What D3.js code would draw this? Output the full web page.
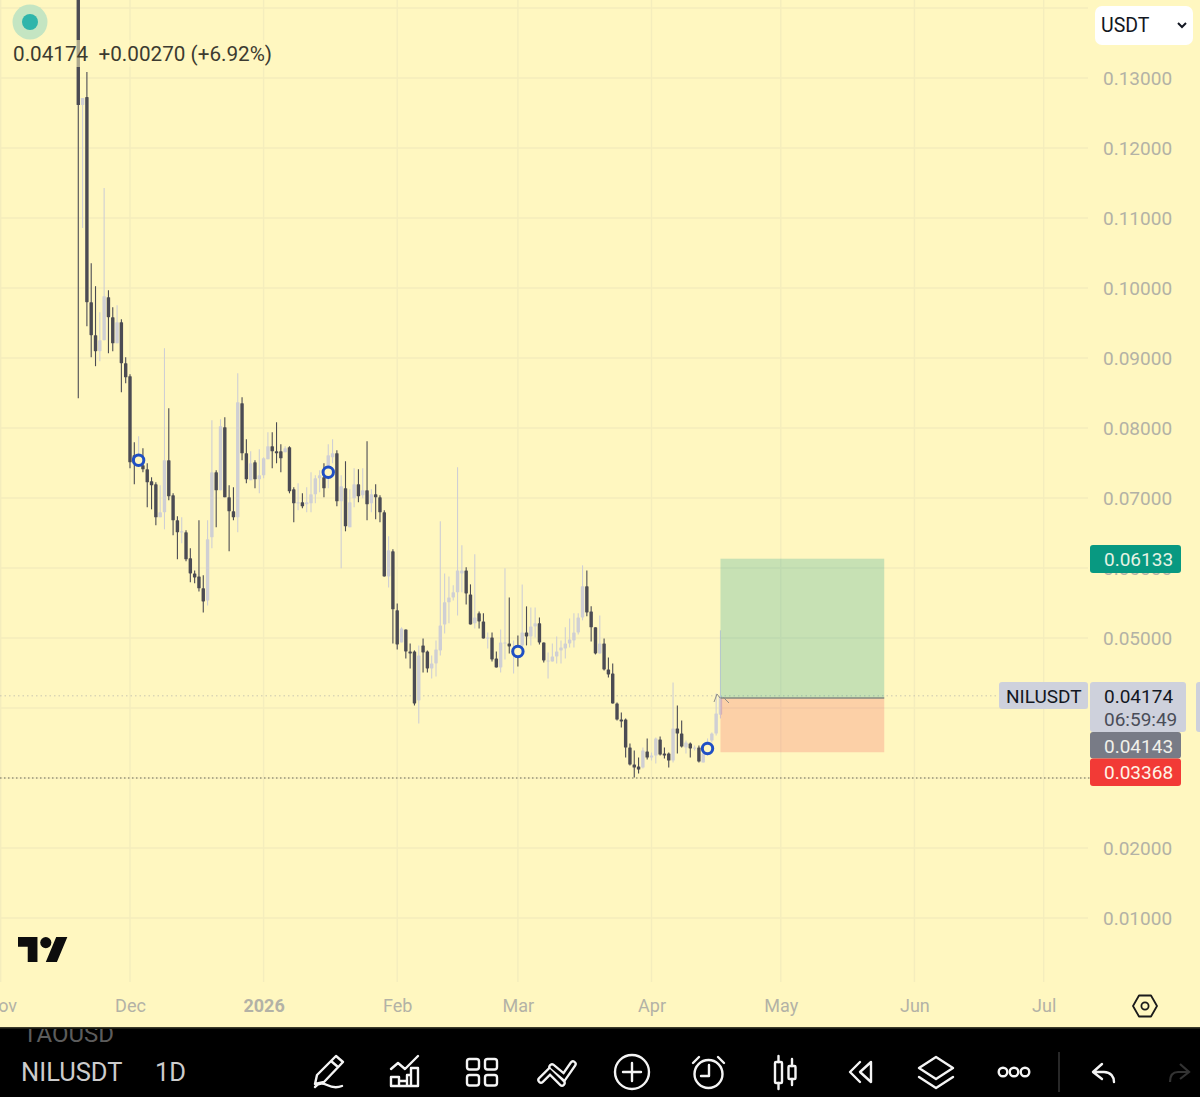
<!DOCTYPE html>
<html><head><meta charset="utf-8">
<script src="https://cdn.jsdelivr.net/npm/d3@7/dist/d3.min.js"></script>
<style>html,body{margin:0;padding:0;background:#000}svg{display:block;font-family:Roboto,sans-serif}</style>
</head><body><svg id="c" width="1200" height="1097"></svg>
<script>
// ---- data ----
const firstCandle = "2025-11-19";
const direction = "dldddllddl"+"ddddlddddl"+"ldddlddddd"+"lldldddldd"+"ldllldddld"+"dldlllldll"+"dldlldldld"+"ddlddldddl"+
  "ddllllllll"+"ddlddlddll"+"dldldllddl"+"lllllllldd"+"dldddddddd"+"dldlldddld"+"dldldlllll";
const highs = [0.17,0.12714,0.13086,0.10355,0.10026,0.09655,0.11427,0.09969,0.09726,0.09755,
0.09555,0.09011,0.08768,0.07796,0.07882,0.07710,0.07496,0.07296,0.07224,0.07181,
0.09140,0.08282,0.07067,0.06738,0.06724,0.06538,0.06281,0.05966,0.06681,0.05895,
0.06681,0.08111,0.07396,0.08125,0.08153,0.07181,0.07153,0.08783,0.08439,0.07839,
0.07667,0.07539,0.07696,0.07582,0.07939,0.07939,0.08082,0.07768,0.07739,0.07739,
0.07153,0.07210,0.07067,0.07153,0.07367,0.07324,0.07396,0.07496,0.07768,0.07839,
0.07682,0.07324,0.07525,0.07124,0.07425,0.07410,0.07425,0.07811,0.07124,0.07196,
0.07038,0.06824,0.06452,0.06267,0.05494,0.05152,0.05123,0.04923,0.04823,0.04894,
0.04994,0.04823,0.04751,0.04966,0.06667,0.05923,0.05880,0.05752,0.07439,0.06324,
0.06009,0.05766,0.06195,0.05380,0.05352,0.05080,0.05080,0.04808,0.05123,0.05995,
0.05580,0.04966,0.05037,0.05766,0.05452,0.05437,0.05437,0.05294,0.04937,0.04794,
0.04923,0.05023,0.04966,0.05152,0.05280,0.05352,0.05352,0.06038,0.05966,0.05452,
0.05152,0.05323,0.04994,0.04722,0.04637,0.04079,0.03936,0.03851,0.03493,0.03393,
0.03293,0.03436,0.03565,0.03364,0.03579,0.03593,0.03436,0.03364,0.04365,0.04036,
0.03822,0.03536,0.03507,0.03465,0.03465,0.03364,0.03565,0.03651,0.04208,0.05109];
const bodyUpper = [0.16,0.12714,0.12728,0.09798,0.09326,0.09254,0.09883,0.09869,0.09583,0.09512,
0.09512,0.08926,0.08740,0.07610,0.07539,0.07467,0.07410,0.07239,0.07196,0.06795,
0.07539,0.07539,0.07038,0.06681,0.06524,0.06510,0.06138,0.05923,0.05880,0.05709,
0.06409,0.07367,0.07367,0.08025,0.08011,0.07010,0.06810,0.08368,0.08354,0.07639,
0.07496,0.07510,0.07324,0.07568,0.07739,0.07739,0.07667,0.07667,0.07710,0.07725,
0.07124,0.06938,0.06938,0.06938,0.07053,0.07281,0.07324,0.07296,0.07610,0.07639,
0.07639,0.07167,0.07139,0.06938,0.07196,0.07196,0.07110,0.07110,0.07053,0.07053,
0.07010,0.06795,0.06252,0.06238,0.05395,0.05137,0.05123,0.04808,0.04808,0.04751,
0.04894,0.04808,0.04637,0.04837,0.05180,0.05509,0.05580,0.05652,0.05966,0.05966,
0.05966,0.05623,0.05294,0.05352,0.05237,0.05008,0.05008,0.04708,0.04937,0.04937,
0.04923,0.04851,0.04894,0.05080,0.05080,0.05166,0.05209,0.05209,0.04937,0.04680,
0.04737,0.04808,0.04865,0.04923,0.04980,0.05080,0.05294,0.05738,0.05738,0.05380,
0.05152,0.04923,0.04923,0.04551,0.04494,0.04065,0.03836,0.03836,0.03436,0.03193,
0.03164,0.03393,0.03379,0.03321,0.03565,0.03550,0.03350,0.03350,0.03708,0.03708,
0.03636,0.03507,0.03493,0.03436,0.03436,0.03350,0.03522,0.03636,0.03922,0.04174];
const bodyLower = [0.12614,0.12614,0.09798,0.09326,0.09097,0.09097,0.09254,0.09583,0.09211,0.09211,
0.08926,0.08725,0.07510,0.07496,0.07496,0.07410,0.07224,0.07181,0.06724,0.06724,
0.06795,0.07024,0.06681,0.06510,0.06510,0.06124,0.05923,0.05866,0.05709,0.05523,
0.05537,0.06438,0.07110,0.07110,0.07010,0.06810,0.06724,0.06724,0.07639,0.07267,
0.07253,0.07267,0.07267,0.07324,0.07553,0.07667,0.07639,0.07568,0.07653,0.07096,
0.06924,0.06924,0.06881,0.06910,0.06924,0.07053,0.07281,0.07139,0.07296,0.07582,
0.06953,0.06953,0.06595,0.06581,0.06996,0.07024,0.07038,0.06910,0.06924,0.07010,
0.06795,0.05880,0.05880,0.05409,0.04908,0.04937,0.04808,0.04780,0.04065,0.04108,
0.04794,0.04565,0.04565,0.04637,0.04823,0.05194,0.05509,0.05580,0.05652,0.05923,
0.05637,0.05194,0.05209,0.05237,0.04994,0.04994,0.04694,0.04580,0.04580,0.04923,
0.04880,0.04751,0.04794,0.04894,0.05023,0.05023,0.05166,0.04937,0.04680,0.04665,
0.04665,0.04737,0.04823,0.04851,0.04923,0.04966,0.05080,0.05294,0.05366,0.05152,
0.04780,0.04780,0.04551,0.04479,0.04065,0.03836,0.03808,0.03436,0.03193,0.03150,
0.03121,0.03150,0.03293,0.03293,0.03321,0.03336,0.03321,0.03250,0.03250,0.03636,
0.03450,0.03436,0.03422,0.03422,0.03236,0.03221,0.03350,0.03536,0.03636,0.03904];
const lows = [0.08425,0.10856,0.09455,0.09011,0.08883,0.08954,0.09254,0.09068,0.09097,0.09211,
0.08511,0.08640,0.07425,0.07196,0.07453,0.07367,0.06867,0.06838,0.06610,0.06724,
0.06552,0.06967,0.06467,0.06124,0.06352,0.06095,0.05795,0.05781,0.05666,0.05366,
0.05466,0.06281,0.06581,0.07110,0.07010,0.06238,0.06681,0.06510,0.07539,0.07210,
0.07253,0.07139,0.07067,0.07281,0.07553,0.07425,0.07496,0.07367,0.07653,0.07067,
0.06652,0.06824,0.06853,0.06795,0.06795,0.06924,0.07082,0.07010,0.07139,0.07496,
0.06881,0.05995,0.06524,0.06581,0.06867,0.06938,0.06996,0.06681,0.06795,0.06695,
0.06652,0.05880,0.05723,0.04923,0.04837,0.04937,0.04708,0.04565,0.04036,0.03779,
0.04508,0.04508,0.04422,0.04451,0.04751,0.05066,0.05209,0.05537,0.05323,0.05652,
0.05480,0.05194,0.05137,0.05137,0.04994,0.04851,0.04665,0.04580,0.04508,0.04694,
0.04780,0.04494,0.04594,0.04780,0.04894,0.04894,0.05008,0.04908,0.04651,0.04422,
0.04665,0.04637,0.04637,0.04708,0.04865,0.04865,0.05051,0.05252,0.05309,0.04951,
0.04765,0.04780,0.04537,0.04437,0.04065,0.03822,0.03722,0.03293,0.03179,0.03007,
0.03064,0.03136,0.03264,0.03250,0.03207,0.03321,0.03279,0.03150,0.03221,0.03350,
0.03436,0.03350,0.03293,0.03393,0.03221,0.03221,0.03321,0.03507,0.03608,0.03851];
const priceTicks = [0.13,0.12,0.11,0.10,0.09,0.08,0.07,0.06,0.05,0.02,0.01];
const gridOnly = [0.14,0.04,0.03];
const monthDates = ["2025-11-01","2025-12-01","2026-01-01","2026-02-01","2026-03-01","2026-04-01","2026-05-01","2026-06-01","2026-07-01"];
const monthLabels = ["Nov","Dec","2026","Feb","Mar","Apr","May","Jun","Jul"];
const markerIdx = [14,58,102,146];
const markerPrice = [0.07539,0.07367,0.04808,0.03422];
const lastPrice = 0.04174, prevChange = "+0.00270 (+6.92%)", countdown = "06:59:49";
const entry = 0.04143, target = 0.06133, stop = 0.03368, floorLine = 0.03;
const posStart = "2026-04-17", posEnd = "2026-05-25";

// ---- scales ----
const parse = s => new Date(s + "T00:00:00Z");
const BG = "#fff7c0", GRID = "#f4edbd", AXIS = "#b3b2a6", DARK = "#4b4b53", LIGHT = "#cfcfd4";
const x = d3.scaleUtc().domain([parse("2025-11-01"), parse("2026-07-01")]).range([0.7, 1043.7]);
const y = d3.scaleLinear().domain([0.01, 0.13]).range([918, 78]);
const svg = d3.select("#c");
svg.append("rect").attr("width",1200).attr("height",1028).attr("fill",BG);

// grid
svg.append("g").selectAll("line").data(monthDates.map(parse)).join("line")
  .attr("x1",d=>x(d)).attr("x2",d=>x(d)).attr("y1",0).attr("y2",982).attr("stroke",GRID).attr("stroke-width",1.4);
svg.append("g").selectAll("line").data(priceTicks.concat(gridOnly)).join("line")
  .attr("x1",0).attr("x2",1088).attr("y1",d=>y(d)).attr("y2",d=>y(d)).attr("stroke",GRID).attr("stroke-width",1.4);

// dotted price lines
svg.append("line").attr("x1",0).attr("x2",999).attr("y1",y(lastPrice)).attr("y2",y(lastPrice))
  .attr("stroke","#c9c6b0").attr("stroke-width",1).attr("stroke-dasharray","1.5 3");
svg.append("line").attr("x1",0).attr("x2",1090).attr("y1",y(floorLine)).attr("y2",y(floorLine))
  .attr("stroke","#6b6a58").attr("stroke-width",1.2).attr("stroke-dasharray","1.5 2.5");

// candles
const candles = highs.map((h,i)=>{
  const d = new Date(parse(firstCandle).getTime() + i*864e5);
  const dark = direction[i]==="d";
  return {d, h, l:lows[i], o:dark?bodyUpper[i]:bodyLower[i], c:dark?bodyLower[i]:bodyUpper[i], dark};
});
const cg = svg.append("g").selectAll("g").data(candles).join("g");
cg.append("line").attr("x1",d=>x(d.d)).attr("x2",d=>x(d.d)).attr("y1",d=>y(d.h)).attr("y2",d=>y(d.l))
  .attr("stroke",d=>d.dark?DARK:LIGHT).attr("stroke-width",1.1);
cg.append("rect").attr("x",d=>x(d.d)-1.7).attr("width",3.4)
  .attr("y",d=>y(Math.max(d.o,d.c))).attr("height",d=>Math.max(1.2,y(Math.min(d.o,d.c))-y(Math.max(d.o,d.c))))
  .attr("rx",0.6).attr("fill",d=>d.dark?DARK:LIGHT);

// markers
svg.append("g").selectAll("circle").data(markerIdx).join("circle")
  .attr("cx",i=>x(candles[i].d)).attr("cy",(i,k)=>y(markerPrice[k])).attr("r",5.2)
  .attr("fill",BG).attr("stroke","#1f4fc4").attr("stroke-width",3);

// long position tool
const px0=x(parse(posStart)), px1=x(parse(posEnd));
svg.append("rect").attr("x",px0).attr("width",px1-px0).attr("y",y(target)).attr("height",y(entry)-y(target)).attr("fill","rgba(0,150,136,0.22)");
svg.append("rect").attr("x",px0).attr("width",px1-px0).attr("y",y(entry)).attr("height",y(stop)-y(entry)).attr("fill","rgba(242,54,69,0.2)");
svg.append("line").attr("x1",px0).attr("x2",px1).attr("y1",y(entry)).attr("y2",y(entry)).attr("stroke","#848a80").attr("stroke-width",1.6);
svg.append("path").attr("d","M714 702L717 694M717 694L720 698M723 697L729 703").attr("fill","none").attr("stroke","#8f8f88").attr("stroke-width",1);

// axes
const yAxis = d3.axisRight(y).tickValues(priceTicks).tickSize(0).tickFormat(d3.format(".5f"));
const gy = svg.append("g").attr("transform","translate(1103,0.5)").call(yAxis);
gy.select(".domain").remove();
gy.selectAll("text").attr("x",0).attr("fill",AXIS).style("font","19px Roboto");
const xAxis = d3.axisBottom(x).tickValues(monthDates.map(parse)).tickSize(0).tickFormat((d,i)=>monthLabels[i]);
const gx = svg.append("g").attr("transform","translate(0,999)").call(xAxis);
gx.select(".domain").remove();
gx.selectAll("text").attr("y",0).attr("dy","0.72em").attr("fill",AXIS)
  .style("font",(d,i)=>monthLabels[i]==="2026"?"bold 18px Roboto":"18px Roboto");

// price labels
function box(x0,y0,w,h,fill,r){svg.append("rect").attr("x",x0).attr("y",y0).attr("width",w).attr("height",h).attr("rx",r).attr("fill",fill);}
function txt(t,tx,ty,fill,size){return svg.append("text").attr("x",tx).attr("y",ty).attr("fill",fill).attr("dominant-baseline","central").style("font-size",size+"px").text(t);}
const fmt = d3.format(".5f");
box(1090,545,91,28,"#089981",3); txt(fmt(target),1104,559.5,"#e6f3e4",19);
box(999,682,89,27,"#ced1dc",3); txt("NILUSDT",1006,696,"#131722",19);
box(1090,682,96,50,"#ced1dc",3); txt(fmt(lastPrice),1104,696,"#131722",19); txt(countdown,1104,719,"#4a4d58",19);
box(1196,682,10,50,"#ced1dc",3);
box(1090,732,91,26.5,"#787b86",3); txt(fmt(entry),1104,746,"#f0f0ea",19);
box(1090,758.5,91,27.5,"#f23a36",3); txt(fmt(stop),1104,772.5,"#fff3e6",19);

// header
svg.append("circle").attr("cx",30).attr("cy",22).attr("r",17.5).attr("fill","#c4e5c2");
svg.append("circle").attr("cx",30).attr("cy",22).attr("r",8).attr("fill","#2fb5ab");
svg.append("rect").attr("x",10).attr("y",40).attr("width",264).attr("height",27).attr("fill",BG).attr("opacity",0.55);
txt(fmt(lastPrice)+"  "+prevChange,13,54,"#3c3b30",20.7).style("white-space","pre");

// currency box
box(1095,6,98,39,"#ffffff",7); txt("USDT",1101,25,"#131722",19.5);
svg.append("path").attr("d","M1178 23l4 4l4-4").attr("fill","none").attr("stroke","#131722").attr("stroke-width",2);

// logo
svg.append("g").attr("transform","translate(18,931.5) scale(1.39)").call(g=>{
  g.append("path").attr("d","M14 22H7V11H0V4h14v18zM28 22h-8l7.5-18h8L28 22z").attr("fill","#0d0d0d");
  g.append("circle").attr("cx",20).attr("cy",8).attr("r",4).attr("fill","#0d0d0d");
});

// settings hex
svg.append("path").attr("d","M1139 995.5h12l6 10.5l-6 10.5h-12l-6-10.5z").attr("fill","none").attr("stroke","#1b1b1b").attr("stroke-width",1.8).attr("stroke-linejoin","round");
svg.append("circle").attr("cx",1145).attr("cy",1006).attr("r",3.6).attr("fill","none").attr("stroke","#1b1b1b").attr("stroke-width",1.8);

// bottom bar
svg.append("rect").attr("y",1027).attr("width",1200).attr("height",70).attr("fill","#000");
svg.append("rect").attr("y",1027).attr("width",1200).attr("height",1.5).attr("fill","#3b3a2a");
svg.append("clipPath").attr("id","bar").append("rect").attr("y",1029).attr("width",1200).attr("height",68);
txt("TAOUSD",23,1034,"#5c5c5c",24).attr("clip-path","url(#bar)");
txt("NILUSDT",21,1071.5,"#cccccc",25.5);
txt("1D",155,1071.5,"#cccccc",25.5);

const ic = svg.append("g").attr("fill","none").attr("stroke","#f4f4f4").attr("stroke-width",2.4).attr("stroke-linejoin","round").attr("stroke-linecap","round");
// pen
ic.append("path").attr("d","M336 1056l7 6l-19 20l-9 2l2-9zM331 1061l7 6M315 1087c3-4 8-4 12-2s10 3 15 1");
// chart
ic.append("path").attr("d","M391 1069l7-6l7 6l13-13M391 1086v-9h8v9zM399 1086v-5h8v5zM407 1086v-11h4M411 1086h7v-18h-7v18M391 1086h27");
// grid
[[467,1059],[485,1059],[467,1075],[485,1075]].forEach(p=>ic.append("rect").attr("x",p[0]).attr("y",p[1]).attr("width",12).attr("height",10.5).attr("rx",2.5));
// trend icon: two outlined chevrons
const chev = ["M541 1080l9-9l12 12","M552 1067l12 10l9-13"];
chev.forEach(d=>svg.append("path").attr("d",d).attr("fill","none").attr("stroke","#f4f4f4").attr("stroke-width",7.5).attr("stroke-linejoin","miter").attr("stroke-linecap","round"));
chev.forEach(d=>svg.append("path").attr("d",d).attr("fill","none").attr("stroke","#000").attr("stroke-width",3).attr("stroke-linecap","round"));
// plus
ic.append("circle").attr("cx",632).attr("cy",1072).attr("r",17);
ic.append("path").attr("d","M632 1063v18M623 1072h18");
// alarm
ic.append("circle").attr("cx",708.5).attr("cy",1074).attr("r",14);
ic.append("path").attr("d","M709 1065v11h-8M693 1063l6-6M724 1063l-6-6");
// candles
ic.append("rect").attr("x",775).attr("y",1062).attr("width",7).attr("height",21).attr("rx",1);
ic.append("path").attr("d","M778.5 1056v6M778.5 1083v6M792 1059v7M792 1079v6");
ic.append("rect").attr("x",788.5).attr("y",1066).attr("width",7).attr("height",13).attr("rx",1);
// rewind
ic.append("path").attr("d","M860 1062l-10 10l10 10M871 1062l-11 10l11 10z");
// layers
ic.append("path").attr("d","M936 1057l17 11l-17 11l-17-11zM919 1077l17 11l17-11");
// dots
[1003,1014,1025].forEach(cx=>ic.append("circle").attr("cx",cx).attr("cy",1072).attr("r",4.3));
// undo, redo
ic.append("path").attr("d","M1102 1064l-9 8l9 7M1094 1072h10c7 0 10 5 10 10");
svg.append("path").attr("d","M1180 1064l9 8l-9 7M1188 1072h-10c-7 0-8 5-8 10").attr("fill","none").attr("stroke","#333").attr("stroke-width",2.2);
svg.append("line").attr("x1",1059).attr("x2",1059).attr("y1",1052).attr("y2",1092).attr("stroke","#3a3a3a").attr("stroke-width",1.4);
</script></body></html>
